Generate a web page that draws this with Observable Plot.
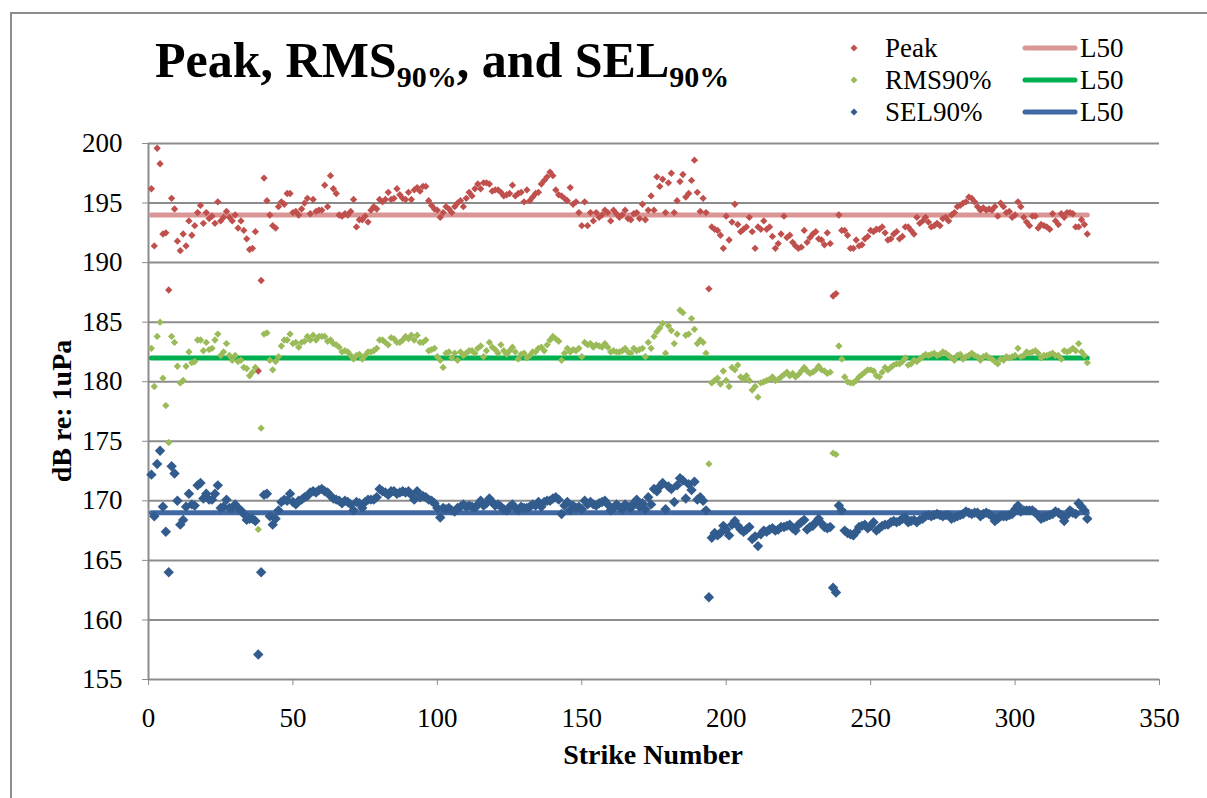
<!DOCTYPE html>
<html><head><meta charset="utf-8">
<script src="https://cdn.jsdelivr.net/npm/d3@7"></script>
<script src="https://cdn.jsdelivr.net/npm/@observablehq/plot@0.6"></script>
<style>
body{margin:0;background:#fff;}
#wrap{position:relative;width:1207px;height:798px;overflow:hidden;font-family:"Liberation Serif",serif;background:#fff;}
#frame{position:absolute;left:10px;top:12px;width:1210px;height:800px;border-left:2px solid #8c8c8c;border-top:2px solid #8c8c8c;}
#chart{position:absolute;left:0;top:0;}
#chart svg text{font-family:"Liberation Serif",serif !important;}
#overlay{position:absolute;left:0;top:0;pointer-events:none;}
</style></head><body>
<div id="wrap"><div id="frame"></div><div id="chart"></div>
<svg id="overlay" width="1207" height="798" font-family="'Liberation Serif', serif"></svg></div>
<script>
// ---- data ----
const peak = [
196.2,191.4,199.6,198.3,192.4,192.5,187.7,195.4,194.5,191.8,
191.0,192.4,191.4,193.5,192.3,193.1,194.2,194.8,193.3,194.2,
193.7,193.9,193.3,195.1,193.5,193.8,194.3,193.8,193.5,194.0,
192.9,193.5,192.7,192.0,191.1,191.2,192.6,180.9,188.5,197.1,
195.2,194.0,193.1,192.9,194.7,195.1,194.9,195.8,195.8,194.2,
194.3,194.0,194.5,195.0,195.4,194.1,195.3,194.3,194.4,194.4,
196.5,194.7,197.3,196.2,195.8,194.0,193.9,194.1,194.0,194.3,
195.3,193.0,193.6,193.6,193.9,193.4,194.4,194.7,194.5,195.3,
195.1,195.3,195.9,195.3,195.4,196.2,195.7,195.4,195.3,195.9,
195.3,196.1,196.3,196.0,196.4,196.4,195.2,194.8,194.5,194.4,
193.8,194.2,194.7,194.5,194.2,194.7,195.0,195.2,194.7,195.4,
195.9,195.6,196.2,196.6,196.2,196.7,196.7,196.6,196.0,196.1,
196.1,195.9,195.6,195.7,195.8,196.5,195.6,195.8,195.9,195.1,
196.1,195.2,195.5,195.8,195.9,196.6,196.9,197.2,197.6,197.3,
196.1,195.7,195.6,195.4,195.2,196.3,194.9,195.1,194.2,193.1,
195.1,193.1,194.2,193.5,194.2,193.8,194.0,194.4,194.2,193.5,
194.4,194.1,193.8,194.0,194.4,193.7,193.6,194.1,194.2,193.7,
194.9,193.6,194.4,195.6,194.4,197.2,196.4,197.0,194.2,196.7,
197.5,194.2,195.2,196.8,197.4,195.5,195.8,196.9,198.6,195.9,
194.3,195.4,194.2,187.8,193.0,192.8,192.7,192.3,191.2,193.9,
191.9,193.4,194.9,193.2,192.6,192.8,193.0,193.8,192.6,191.2,
193.0,192.8,193.5,192.8,193.0,192.2,191.2,191.6,192.4,193.9,
192.1,192.3,191.7,191.4,191.2,191.3,192.7,191.7,192.1,192.4,
192.6,192.0,191.9,191.5,192.5,191.6,187.2,187.4,194.0,192.7,
192.7,192.3,191.2,191.2,191.9,191.4,191.5,192.0,192.2,192.7,
192.6,192.8,192.8,193.0,192.5,191.9,192.0,192.4,192.6,192.0,
192.2,193.0,193.0,192.7,192.4,193.8,193.3,193.5,193.8,193.4,
193.0,193.1,193.3,193.1,193.7,193.8,193.5,194.0,194.2,194.7,
194.8,195.0,195.1,195.5,195.4,195.1,194.7,194.4,194.6,194.4,
194.5,194.4,194.7,193.9,195.0,194.7,194.2,194.3,193.8,194.0,
195.1,194.7,193.8,193.4,193.1,193.9,193.9,192.9,193.2,193.1,
193.0,192.8,194.1,193.5,193.2,194.1,193.8,194.2,194.2,194.1,
193.0,193.0,193.6,193.2,192.4];
const rms90 = [
182.8,179.6,183.8,185.0,180.3,178.0,174.9,183.8,183.3,181.3,
179.9,180.1,181.3,182.5,181.6,181.7,183.5,183.5,182.6,183.3,
182.7,182.8,183.5,184.0,182.2,182.5,183.2,182.2,181.8,182.2,
181.7,181.8,181.2,181.1,180.5,180.8,181.2,167.6,176.1,184.0,
184.1,181.8,181.0,181.7,182.1,183.0,183.5,183.5,184.0,183.2,
183.3,182.9,183.3,183.4,183.8,183.5,183.9,183.5,183.8,183.8,
183.8,183.4,183.5,183.2,183.1,182.9,182.5,182.6,182.5,182.2,
181.9,182.2,182.3,181.9,182.2,182.5,182.5,182.6,182.8,183.5,
183.5,183.3,183.1,183.7,183.6,183.3,183.3,183.5,183.8,183.6,
183.9,183.5,183.9,183.3,183.3,183.5,182.6,182.7,182.8,182.1,
181.8,181.2,182.4,182.5,182.0,182.4,181.8,182.5,182.2,182.4,
182.6,182.6,182.4,182.8,183.0,182.1,182.6,183.3,182.9,182.7,
182.4,183.1,182.6,182.3,182.6,182.9,182.5,181.9,182.3,182.4,
182.0,182.2,182.5,182.5,182.8,182.9,182.6,183.1,183.5,183.8,
183.6,183.4,181.8,182.4,182.8,182.5,182.7,182.6,182.8,182.1,
183.3,183.1,183.2,182.9,183.1,183.0,182.9,183.2,182.9,182.5,
182.6,182.5,182.5,182.6,182.8,182.5,182.4,182.8,182.6,182.7,
182.8,182.1,183.3,182.8,183.8,184.2,184.5,184.9,182.4,184.7,
184.3,183.2,184.0,186.0,185.8,183.9,184.0,185.3,184.4,183.2,
183.5,183.3,182.4,173.1,179.9,180.1,180.3,179.8,180.9,180.1,
179.6,181.2,181.0,181.4,180.4,180.2,180.5,180.1,179.3,179.6,
178.7,179.9,180.0,180.1,180.2,180.4,180.1,180.2,180.4,180.6,
180.8,180.5,180.7,180.4,180.6,180.9,181.2,180.9,180.7,180.8,
181.0,181.3,181.0,180.9,180.7,180.8,174.0,173.9,183.0,181.9,
180.4,180.0,179.9,179.9,180.1,180.4,180.6,180.8,181.0,181.0,
180.9,180.5,180.4,180.8,181.2,181.0,181.2,181.4,181.5,181.5,
181.7,182.0,181.4,181.5,181.8,181.7,181.9,182.1,182.3,182.2,
182.3,182.4,182.2,182.3,182.5,182.4,182.2,182.0,181.8,182.2,
182.3,181.9,182.1,182.2,182.4,182.2,182.1,181.8,182.1,182.2,
182.0,181.9,181.7,181.5,181.9,181.8,182.1,182.0,182.1,182.2,
182.8,182.1,182.2,182.5,182.4,182.5,182.6,182.4,182.0,182.2,
182.2,182.3,182.4,182.2,182.2,181.9,182.6,182.5,182.6,182.8,
182.6,183.2,182.5,182.2,181.6];
const sel90 = [
172.2,168.7,173.1,174.2,169.5,167.4,164.0,172.9,172.3,170.0,
168.0,168.4,169.5,170.6,169.7,169.6,171.3,171.5,170.2,170.6,
170.1,170.1,170.6,171.3,169.4,169.5,170.1,169.4,169.4,169.7,
169.4,169.2,168.9,168.4,168.5,168.5,168.3,157.1,164.0,170.5,
170.6,168.7,168.0,168.5,169.2,169.9,170.1,170.0,170.6,169.9,
169.7,170.0,170.1,170.3,170.4,170.7,170.8,170.7,170.9,171.0,
170.8,170.7,170.4,170.2,170.1,170.0,169.8,170.0,169.9,169.7,
169.2,169.9,169.8,169.4,169.9,170.1,170.1,170.1,170.3,171.0,
170.8,170.7,170.5,170.8,170.8,170.6,170.7,170.8,170.7,170.8,
170.5,170.1,170.8,170.3,170.4,170.3,170.1,170.0,169.8,169.4,
168.6,169.4,169.3,169.4,169.2,169.1,169.4,169.5,169.7,169.5,
169.6,169.5,169.4,169.7,170.0,169.6,169.8,170.2,169.9,169.6,
169.7,169.5,169.3,169.2,169.5,169.7,169.4,169.2,169.5,169.4,
169.4,169.5,169.7,169.6,169.9,169.5,169.9,170.0,170.0,170.2,
170.3,170.1,168.9,169.6,169.9,169.2,169.6,169.4,169.5,169.3,
170.0,169.7,169.9,169.7,169.6,169.8,169.9,170.0,169.7,169.2,
169.4,169.7,169.5,169.3,169.7,169.5,169.4,169.8,170.1,169.5,
169.8,169.3,170.3,169.7,171.0,170.8,171.2,171.5,169.3,171.2,
171.0,169.9,171.3,171.9,171.7,170.2,171.4,170.9,171.6,170.1,
170.3,170.0,169.2,161.9,166.9,167.3,167.1,167.3,167.9,167.6,
167.1,168.0,168.3,167.9,167.6,167.4,167.6,167.8,166.8,167.0,
166.2,167.2,167.5,167.4,167.6,167.7,167.5,167.6,167.8,167.8,
167.9,168.0,167.7,167.5,168.0,168.2,168.4,167.6,167.8,167.9,
168.2,168.5,168.1,167.8,167.7,167.8,162.7,162.3,169.6,169.2,
167.5,167.3,167.2,167.1,167.4,167.8,167.9,168.0,167.7,167.9,
168.2,167.5,167.7,167.9,168.0,168.0,168.2,168.3,168.2,168.3,
168.5,168.6,168.2,168.3,168.4,168.2,168.4,168.5,168.7,168.8,
168.7,168.8,168.9,168.8,168.7,168.8,168.8,168.5,168.6,168.7,
168.8,168.9,169.1,169.0,168.9,169.0,169.0,168.7,168.9,169.0,
168.9,168.7,168.3,168.5,168.7,168.7,168.7,168.8,168.9,169.3,
169.6,169.1,169.2,169.2,169.2,169.2,169.0,168.8,168.5,168.6,
168.7,168.8,168.9,169.1,169.0,168.8,168.3,168.8,169.2,169.0,
168.9,169.8,169.5,169.2,168.5];
const seriesNames = ["Peak", "RMS90%", "SEL90%"];
const l50Values = [194, 182, 169];
const xTicks = [0, 50, 100, 150, 200, 250, 300, 350];
const yTicks = [155, 160, 165, 170, 175, 180, 185, 190, 195, 200];

// ---- styles ----
const markerColors = ["#C0504D", "#9BBB59", "#335C8E"];
const lineColors = ["#DA9694", "#00B050", "#4068A2"];
const markerR = [3.3, 3.3, 4.7];

const strikes = peak.map((_, i) => i + 1);
const series = [peak, rms90, sel90];
const rows = series.map((vals, k) => vals.map((v, i) => ({strike: strikes[i], value: v, k})));
const l50Rows = l50Values.map((v, k) => [
  {strike: strikes[0], value: v, k},
  {strike: strikes[strikes.length - 1], value: v, k}
]);

const FONT = '"Liberation Serif", serif';
const gridColor = "#8c8c8c";

const marks = [
  Plot.ruleY(yTicks, {stroke: gridColor, strokeWidth: 2}),
  Plot.ruleX([xTicks[0]], {stroke: gridColor, strokeWidth: 2}),
  Plot.axisX({ticks: xTicks, tickSize: 6, tickPadding: 22, stroke: gridColor, fill: "#000", fontSize: 27, fontFamily: FONT, label: null}),
  Plot.axisY({ticks: yTicks, tickSize: 6, tickPadding: 20, stroke: gridColor, fill: "#000", fontSize: 27, fontFamily: FONT, label: null})
];
l50Rows.forEach((r, k) => marks.push(
  Plot.line(r, {x: "strike", y: "value", stroke: lineColors[k], strokeWidth: 5, strokeLinecap: "round"})
));
rows.forEach((r, k) => marks.push(
  Plot.dot(r, {x: "strike", y: "value", symbol: "diamond2", r: markerR[k], fill: markerColors[k], stroke: "none"})
));

const chart = Plot.plot({
  width: 1207, height: 798,
  marginLeft: 148, marginRight: 48, marginTop: 143, marginBottom: 119,
  style: {fontFamily: FONT, fontSize: "27px", background: "transparent", color: "#000"},
  x: {domain: [xTicks[0], xTicks[xTicks.length - 1]]},
  y: {domain: [yTicks[0], yTicks[yTicks.length - 1]]},
  marks
});
document.getElementById("chart").appendChild(chart);

// ---- overlay: title, axis titles, legend ----
const ov = d3.select("#overlay");
const t = ov.append("text").attr("x", 155).attr("y", 77).attr("font-size", 50).attr("font-weight", "bold").attr("fill", "#000");
t.append("tspan").text("Peak, RMS");
t.append("tspan").attr("dy", 10).attr("font-size", 30).text("90%");
t.append("tspan").attr("dy", -10).text(", and SEL");
t.append("tspan").attr("dy", 10).attr("font-size", 30).text("90%");

ov.append("text").attr("x", 653).attr("y", 764).attr("text-anchor", "middle")
  .attr("font-size", 28).attr("font-weight", "bold").text("Strike Number");
ov.append("text").attr("transform", "translate(71,411) rotate(-90)").attr("text-anchor", "middle")
  .attr("font-size", 28).attr("font-weight", "bold").text("dB re: 1uPa");

const legY = [48, 80, 112];
seriesNames.forEach((name, k) => {
  const y = legY[k];
  ov.append("path").attr("d", `M854,${y-3.5}L857.5,${y}L854,${y+3.5}L850.5,${y}Z`).attr("fill", markerColors[k]);
  ov.append("text").attr("x", 885).attr("y", y + 9).attr("font-size", 27).text(name);
  ov.append("line").attr("x1", 1025).attr("x2", 1075).attr("y1", y).attr("y2", y)
    .attr("stroke", lineColors[k]).attr("stroke-width", 5).attr("stroke-linecap", "round");
  ov.append("text").attr("x", 1080).attr("y", y + 9).attr("font-size", 27).text("L50");
});
</script>
</body></html>
